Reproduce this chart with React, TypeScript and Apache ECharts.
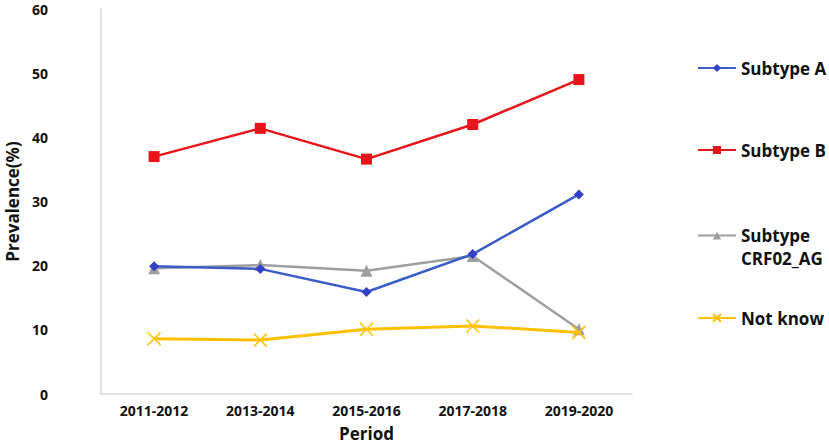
import React, { useEffect, useRef } from "react";
import * as echarts from "echarts";

const periods = ["2011-2012", "2013-2014", "2015-2016", "2017-2018", "2019-2020"];
const subtypeA = [19.9, 19.5, 15.9, 21.8, 31.1];
const subtypeB = [37.0, 41.4, 36.6, 42.0, 49.0];
const crf02 = [19.6, 20.1, 19.2, 21.5, 10.1];
const notKnow = [8.6, 8.4, 10.1, 10.6, 9.6];
const yTicks = [0, 60, 10];

const FONT = "'Open Sans', 'Noto Sans', sans-serif";
const X_PATH = "path://M0,0L10,10M10,0L0,10";

export default function App() {
  const ref = useRef<HTMLDivElement>(null);
  useEffect(() => {
    document.body.style.margin = "0";
    const chart = echarts.init(ref.current!, null, { renderer: "svg" });
    const legendBase = {
      orient: "vertical" as const,
      left: 697,
      padding: 0,
      itemWidth: 38,
      itemHeight: 10,
      textStyle: { fontFamily: FONT, fontWeight: "bold" as const, fontSize: 17, color: "#111", lineHeight: 20 },
      selectedMode: false,
    };
    chart.setOption({
      animation: false,
      grid: { left: 101, right: 197, top: 9, bottom: 50, outerBoundsMode: "none", containLabel: false },
      legend: [
        { ...legendBase, top: 58, data: ["Subtype A"] },
        { ...legendBase, top: 140, data: ["Subtype B"] },
        {
          ...legendBase,
          top: 201,
          data: ["Subtype CRF02_AG"],
          formatter: () => " \nSubtype\nCRF02_AG",
          textStyle: { ...legendBase.textStyle, lineHeight: 23 },
        },
        { ...legendBase, top: 308, data: ["Not know"] },
      ],
      xAxis: {
        type: "category",
        data: periods,
        boundaryGap: true,
        name: "Period",
        nameLocation: "middle",
        nameGap: 31,
        nameTextStyle: { fontFamily: FONT, fontWeight: "bold", fontSize: 17, color: "#111" },
        axisLine: { lineStyle: { color: "#d9d9d9", width: 1.5 } },
        axisTick: { alignWithLabel: true, length: 6, lineStyle: { color: "#d9d9d9" } },
        axisLabel: { fontFamily: FONT, fontWeight: "bold", fontSize: 14, color: "#111", margin: 9 },
      },
      yAxis: {
        type: "value",
        min: yTicks[0],
        max: yTicks[1],
        interval: yTicks[2],
        name: "Prevalence(%)",
        nameLocation: "middle",
        nameGap: 80,
        nameTextStyle: { fontFamily: FONT, fontWeight: "bold", fontSize: 17, color: "#111" },
        axisLine: { show: true, lineStyle: { color: "#d9d9d9", width: 1.5 } },
        axisTick: { show: false },
        splitLine: { show: false },
        axisLabel: { fontFamily: FONT, fontWeight: "bold", fontSize: 14, color: "#111", margin: 53, align: "right" },
      },
      series: [
        {
          name: "Subtype A",
          type: "line",
          data: subtypeA,
          symbol: "diamond",
          symbolSize: 10,
          lineStyle: { color: "#3a5cc8", width: 2.5 },
          itemStyle: { color: "#3340c8" },
          z: 3,
        },
        {
          name: "Subtype B",
          type: "line",
          data: subtypeB,
          symbol: "rect",
          symbolSize: 11,
          lineStyle: { color: "#e8141a", width: 2.5 },
          itemStyle: { color: "#e8141a" },
        },
        {
          name: "Subtype CRF02_AG",
          type: "line",
          data: crf02,
          symbol: "triangle",
          symbolSize: 12,
          lineStyle: { color: "#9e9e9e", width: 2.5 },
          itemStyle: { color: "#9e9e9e" },
          z: 2,
        },
        {
          name: "Not know",
          type: "line",
          data: notKnow,
          symbol: X_PATH,
          symbolSize: 13,
          lineStyle: { color: "#ffc000", width: 3 },
          itemStyle: { color: "#ffc000", borderColor: "#ffc000", borderWidth: 1.5 },
          z: 4,
        },
      ],
    });
    return () => chart.dispose();
  }, []);
  return <div ref={ref} style={{ width: 829, height: 444 }} />;
}
